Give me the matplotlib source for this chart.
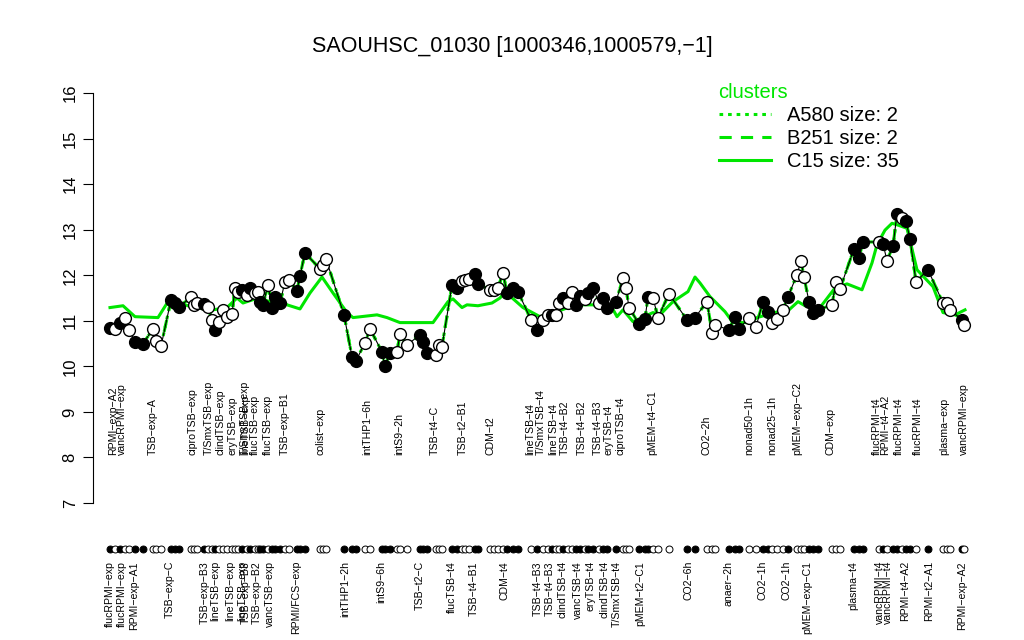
import matplotlib
matplotlib.use("Agg")
import matplotlib.pyplot as plt
from matplotlib.lines import Line2D

plt.rcParams['font.family'] = ['Liberation Sans', 'DejaVu Sans']

GREEN = '#00e600'

# condition positions along the x axis, expression values, filled (1) / open (0)
pos = [10, 15, 20, 25, 29, 35, 43, 53, 56, 61,
       71, 75, 79, 91, 94, 97, 104, 108, 112, 115,
       119, 123, 127, 132, 135, 138, 142, 147, 150, 155,
       158, 160, 163, 168, 172, 175, 180, 185, 189, 197,
       200, 205, 220, 223, 226, 244, 252, 256, 265, 270,
       282, 285, 290, 297, 300, 307, 320, 323, 327, 336,
       339, 342, 352, 357, 362, 365, 369, 375, 378, 390,
       394, 398, 403, 407, 413, 418, 431, 437, 443, 448,
       452, 456, 459, 463, 468, 472, 476, 480, 485, 488,
       493, 499, 503, 507, 516, 523, 526, 529, 539, 545,
       548, 553, 558, 569, 587, 595, 607, 612, 615, 629,
       635, 639, 649, 656, 663, 668, 672, 677, 683, 688,
       697, 701, 704, 709, 713, 718, 732, 736, 740, 754,
       759, 763, 779, 783, 787, 793, 797, 802, 806, 810,
       816, 828, 843, 847, 850, 862, 864]
expr = [10.85, 10.82, 10.95, 11.07, 10.80, 10.54, 10.50, 10.82, 10.55, 10.44,
        11.46, 11.39, 11.30, 11.52, 11.35, 11.40, 11.37, 11.31, 11.02, 10.80,
        10.98, 11.24, 11.09, 11.15, 11.72, 11.64, 11.67, 11.57, 11.72, 11.61,
        11.64, 11.42, 11.35, 11.79, 11.29, 11.53, 11.39, 11.86, 11.90, 11.66,
        11.99, 12.49, 12.14, 12.23, 12.36, 11.13, 10.21, 10.12, 10.52, 10.82,
        10.32, 10.00, 10.30, 10.32, 10.71, 10.47, 10.69, 10.54, 10.30, 10.25,
        10.47, 10.43, 11.79, 11.72, 11.88, 11.90, 11.92, 12.03, 11.81, 11.68,
        11.68, 11.72, 12.05, 11.61, 11.72, 11.64, 11.02, 10.80, 11.02, 11.13,
        11.13, 11.13, 11.39, 11.50, 11.39, 11.64, 11.35, 11.55, 11.48, 11.61,
        11.72, 11.39, 11.50, 11.29, 11.42, 11.94, 11.72, 11.29, 10.93, 11.04,
        11.53, 11.50, 11.07, 11.59, 11.02, 11.07, 11.42, 10.74, 10.91, 10.80,
        11.09, 10.82, 11.07, 10.87, 11.42, 11.20, 10.96, 11.04, 11.24, 11.53,
        12.01, 12.32, 11.96, 11.42, 11.18, 11.24, 11.35, 11.86, 11.70, 12.58,
        12.38, 12.73, 12.73, 12.69, 12.32, 12.64, 13.35, 13.26, 13.18, 12.80,
        11.86, 12.12, 11.39, 11.39, 11.24, 11.02, 10.91]
filled = [1, 0, 1, 0, 0, 1, 1, 0, 0, 0,
          1, 1, 1, 0, 0, 0, 1, 0, 0, 1,
          0, 0, 0, 0, 0, 0, 1, 0, 1, 0,
          0, 1, 1, 0, 1, 1, 1, 0, 0, 1,
          1, 1, 0, 0, 0, 1, 1, 1, 0, 0,
          1, 1, 1, 0, 0, 0, 1, 1, 1, 0,
          0, 0, 1, 1, 0, 0, 0, 1, 1, 0,
          0, 0, 0, 1, 1, 1, 0, 1, 0, 0,
          1, 0, 0, 1, 0, 0, 1, 1, 0, 1,
          1, 0, 1, 1, 1, 0, 0, 0, 1, 1,
          1, 0, 0, 0, 1, 1, 0, 0, 0, 1,
          1, 1, 0, 0, 1, 1, 0, 0, 0, 1,
          0, 0, 0, 1, 1, 1, 0, 0, 0, 1,
          1, 1, 0, 1, 0, 1, 1, 0, 1, 1,
          0, 1, 0, 0, 0, 1, 0]

# cluster C15 mean profile
c15_pos = [10, 23, 35, 58, 68, 80, 93, 113, 127, 137, 143, 158, 170, 180, 187,
           200, 210, 222, 233, 247, 253, 277, 287, 300, 333, 348, 353, 362, 367,
           378, 392, 400, 405, 423, 440, 457, 468, 477, 493, 503, 512, 517, 523,
           533, 553, 560, 567, 573, 588, 595, 600, 610, 625, 633, 650, 657, 678,
           687, 698, 705, 720, 735, 747, 762, 772, 777, 785, 792, 798, 807, 817,
           833, 843, 855, 865]
c15_val = [11.29, 11.33, 11.09, 11.07, 11.42, 11.39, 11.29, 11.24, 11.29, 11.50,
           11.39, 11.50, 11.42, 11.50, 11.35, 11.26, 11.61, 11.96, 11.61, 11.18,
           11.07, 11.13, 11.07, 10.96, 10.96, 11.42, 11.48, 11.29, 11.35, 11.33,
           11.39, 11.50, 11.64, 11.29, 11.09, 11.20, 11.29, 11.35, 11.35, 11.29,
           11.29, 11.09, 11.24, 10.98, 11.18, 11.13, 11.29, 11.42, 11.64, 11.96,
           11.83, 11.53, 11.20, 10.96, 10.96, 11.07, 11.20, 11.20, 11.42, 11.33,
           11.29, 11.72, 11.81, 11.68, 12.27, 12.67, 12.99, 13.14, 13.10, 13.03,
           12.12, 11.75, 11.18, 11.13, 11.24]

top_labels = ['RPMI−exp−A2', 'vancRPMI−exp', 'TSB−exp−A', 'ciproTSB−exp',
              'T/SmxTSB−exp', 'clindTSB−exp', 'eryTSB−exp', 'T/SmxTSB−exp',
              'lineTSB−exp', 'flucTSB−exp', 'flucTSB−exp', 'TSB−exp−B1',
              'colist−exp', 'intTHP1−6h', 'intS9−2h', 'TSB−t4−C', 'TSB−t2−B1',
              'CDM−t2', 'lineTSB−t4', 'T/SmxTSB−t4', 'lineTSB−t4', 'TSB−t4−B2',
              'TSB−t4−B2', 'TSB−t4−B3', 'eryTSB−t4', 'ciproTSB−t4',
              'pMEM−t4−C1', 'CO2−2h', 'nonad50−1h', 'nonad25−1h',
              'pMEM−exp−C2', 'CDM−exp', 'flucRPMI−t4', 'RPMI−t4−A2',
              'flucRPMI−t4', 'flucRPMI−t4', 'plasma−exp', 'vancRPMI−exp']
top_pos = [13, 22, 53, 92, 109, 120, 133, 145, 145, 155, 168, 185,
           221, 267, 299, 335, 363, 391, 430, 441, 453, 465,
           482, 498, 509, 520, 552, 606, 649, 672,
           697, 730, 777, 785, 799, 818, 844, 864]

bottom_labels = ['flucRPMI−exp', 'flucRPMI−exp', 'RPMI−exp−A1', 'TSB−exp−C',
                 'TSB−exp−B3', 'lineTSB−exp', 'lineTSB−exp', 'lineTSB−exp',
                 'TSB−exp−B3', 'TSB−exp−B2', 'vancTSB−exp', 'RPMI/FCS−exp',
                 'intTHP1−2h', 'intS9−6h', 'TSB−t2−C', 'flucTSB−t4',
                 'TSB−t4−B1', 'CDM−t4', 'TSB−t4−B3', 'TSB−t4−B3',
                 'clindTSB−t4', 'vancTSB−t4', 'eryTSB−t4', 'clindTSB−t4',
                 'T/SmxTSB−t4', 'pMEM−t2−C1', 'CO2−6h', 'anaer−2h', 'CO2−1h',
                 'CO2−1h', 'pMEM−exp−C1', 'plasma−t4', 'vancRPMI−t4',
                 'vancRPMI−t4', 'RPMI−t4−A2', 'RPMI−t2−A1', 'RPMI−exp−A2']
bottom_pos = [10, 22, 34, 70, 105, 115, 130, 142, 146, 157, 170, 196,
              245, 281, 320, 352, 374, 404, 438, 450,
              462, 478, 490, 505, 517, 540, 589, 628, 662,
              687, 707, 753, 780, 788, 805, 829, 862]

fig = plt.figure(figsize=(10.24, 6.4), dpi=100)
# y limits chosen so that 7..16 fall on the plot region, with room below for labels
px = 9 / 410.0
ax = fig.add_axes([93 / 1024, 0, 1 - 93 / 1024, 1])
ax.set_xlim(-7, 924)
ax.set_ylim(7 - 137 * px, 16 + 93 * px)

# cluster profiles
ax.plot(pos, expr, color=GREEN, lw=2.2, ls=(0, (1.2, 1.6)), zorder=2)
ax.plot(pos, expr, color=GREEN, lw=2.2, ls=(0, (4, 3)), zorder=2)
ax.plot(c15_pos, c15_val, color=GREEN, lw=2.2, zorder=2)

# gene profile
ax.plot(pos, expr, color='black', lw=0.8, zorder=3)
for x, y, f in zip(pos, expr, filled):
    ax.plot(x, y, 'o', ms=8.5, mec='black', mew=1.0,
            mfc='black' if f else 'white', zorder=4)

# dot row
dot_y = 7 - 46 * px
for x, f in zip(pos, filled):
    ax.plot(x, dot_y, 'o', ms=5, mec='black', mew=0.7,
            mfc='black' if f else 'white', clip_on=False, zorder=4)

for lab, x in zip(top_labels, top_pos):
    ax.text(x, 7 + 48 * px, lab, rotation=90, ha='center', va='bottom',
            fontsize=7.6)
for lab, x in zip(bottom_labels, bottom_pos):
    ax.text(x, 7 - 58 * px, lab, rotation=90, ha='center', va='top',
            fontsize=7.6)

for s in ['top', 'right', 'bottom']:
    ax.spines[s].set_visible(False)
ax.spines['left'].set_bounds(7, 16)
ax.set_yticks(range(7, 17))
ax.set_yticklabels([str(v) for v in range(7, 17)], rotation=90, va='center',
                   fontsize=12)
ax.tick_params(axis='y', length=7, pad=4)
ax.set_xticks([])

fig.text(0.5, 0.927, 'SAOUHSC_01030 [1000346,1000579,−1]', ha='center',
         va='center', fontsize=15.5)

handles = [Line2D([], [], color=GREEN, lw=2.2, ls=(0, (1.2, 1.6))),
           Line2D([], [], color=GREEN, lw=2.2, ls=(0, (4, 3))),
           Line2D([], [], color=GREEN, lw=2.2)]
leg = ax.legend(handles, ['A580 size: 2', 'B251 size: 2', 'C15 size: 35'],
                title='clusters', loc='upper left',
                bbox_to_anchor=(0.688, 0.892), bbox_transform=fig.transFigure,
                frameon=False, fontsize=14.5, title_fontsize=14.5,
                handlelength=2.6, handletextpad=0.8, labelspacing=0.2,
                borderpad=0.2, alignment='left')
leg.get_title().set_color(GREEN)

fig.savefig('out.png', dpi=100)
